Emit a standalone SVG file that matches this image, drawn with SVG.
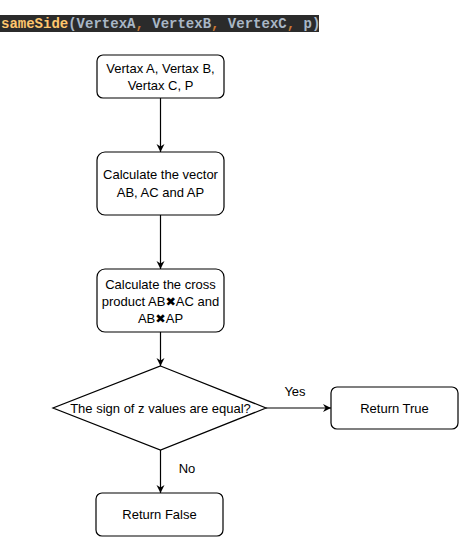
<svg xmlns="http://www.w3.org/2000/svg" width="460" height="538" viewBox="0 0 460 538">
<style>
.box{fill:#fff;stroke:#000;stroke-width:1.2}
.t{font-family:"Liberation Sans",Arial,sans-serif;font-size:13px;fill:#000;text-anchor:middle}
.x{font-family:"DejaVu Sans",sans-serif;font-size:12.5px}
.code{font-family:"Liberation Mono","Courier New",monospace;font-size:14px;font-weight:bold}
.conn{stroke:#000;stroke-width:1.2;fill:none}
</style>
<defs>
<marker id="arr" markerWidth="10" markerHeight="10" refX="8" refY="5" orient="auto" markerUnits="userSpaceOnUse">
<path d="M0,1 L8,5 L0,9 L2.5,5 Z" fill="#000"/>
</marker>
</defs>
<rect width="460" height="538" fill="#fff"/>
<g id="title">
<rect x="0" y="15" width="319" height="17" fill="#2b2b2b"/>
<text class="code" x="1" y="28"><tspan fill="#ffc66d">sameSide</tspan><tspan fill="#a9b7c6">(VertexA</tspan><tspan fill="#cc7832">,</tspan><tspan fill="#a9b7c6"> VertexB</tspan><tspan fill="#cc7832">,</tspan><tspan fill="#a9b7c6"> VertexC</tspan><tspan fill="#cc7832">,</tspan><tspan fill="#a9b7c6"> p)</tspan></text>
</g>
<g id="connectors">
<line class="conn" x1="160.5" y1="98" x2="160.5" y2="152" marker-end="url(#arr)"/>
<line class="conn" x1="160.5" y1="215" x2="160.5" y2="269" marker-end="url(#arr)"/>
<line class="conn" x1="160.5" y1="332" x2="160.5" y2="366" marker-end="url(#arr)"/>
<line class="conn" x1="266" y1="408" x2="331" y2="408" marker-end="url(#arr)"/>
<line class="conn" x1="160.5" y1="450" x2="160.5" y2="493" marker-end="url(#arr)"/>
<text class="t" x="295" y="396">Yes</text>
<text class="t" x="187" y="473">No</text>
</g>
<g id="n1">
<rect class="box" x="97" y="55" width="127" height="43" rx="6"/>
<text class="t" x="160.5" y="73">Vertax A, Vertax B,</text>
<text class="t" x="160.5" y="90">Vertax C, P</text>
</g>
<g id="n2">
<rect class="box" x="97" y="152" width="127" height="63" rx="8"/>
<text class="t" x="160.5" y="179">Calculate the vector</text>
<text class="t" x="160.5" y="197">AB, AC and AP</text>
</g>
<g id="n3">
<rect class="box" x="97" y="269" width="127" height="63" rx="8"/>
<text class="t" x="160.5" y="289">Calculate the cross</text>
<text class="t" x="160.5" y="306">product AB<tspan class="x">✖</tspan>AC and</text>
<text class="t" x="160.5" y="323">AB<tspan class="x">✖</tspan>AP</text>
</g>
<g id="n4">
<polygon class="box" points="160.5,366 266,408 160.5,450 53,408"/>
<text class="t" x="160.5" y="412.5">The sign of z values are equal?</text>
</g>
<g id="n5">
<rect class="box" x="331" y="387" width="127" height="42" rx="6"/>
<text class="t" x="394.5" y="412.5">Return True</text>
</g>
<g id="n6">
<rect class="box" x="96" y="493" width="127" height="43" rx="6"/>
<text class="t" x="159.5" y="519">Return False</text>
</g>
</svg>
